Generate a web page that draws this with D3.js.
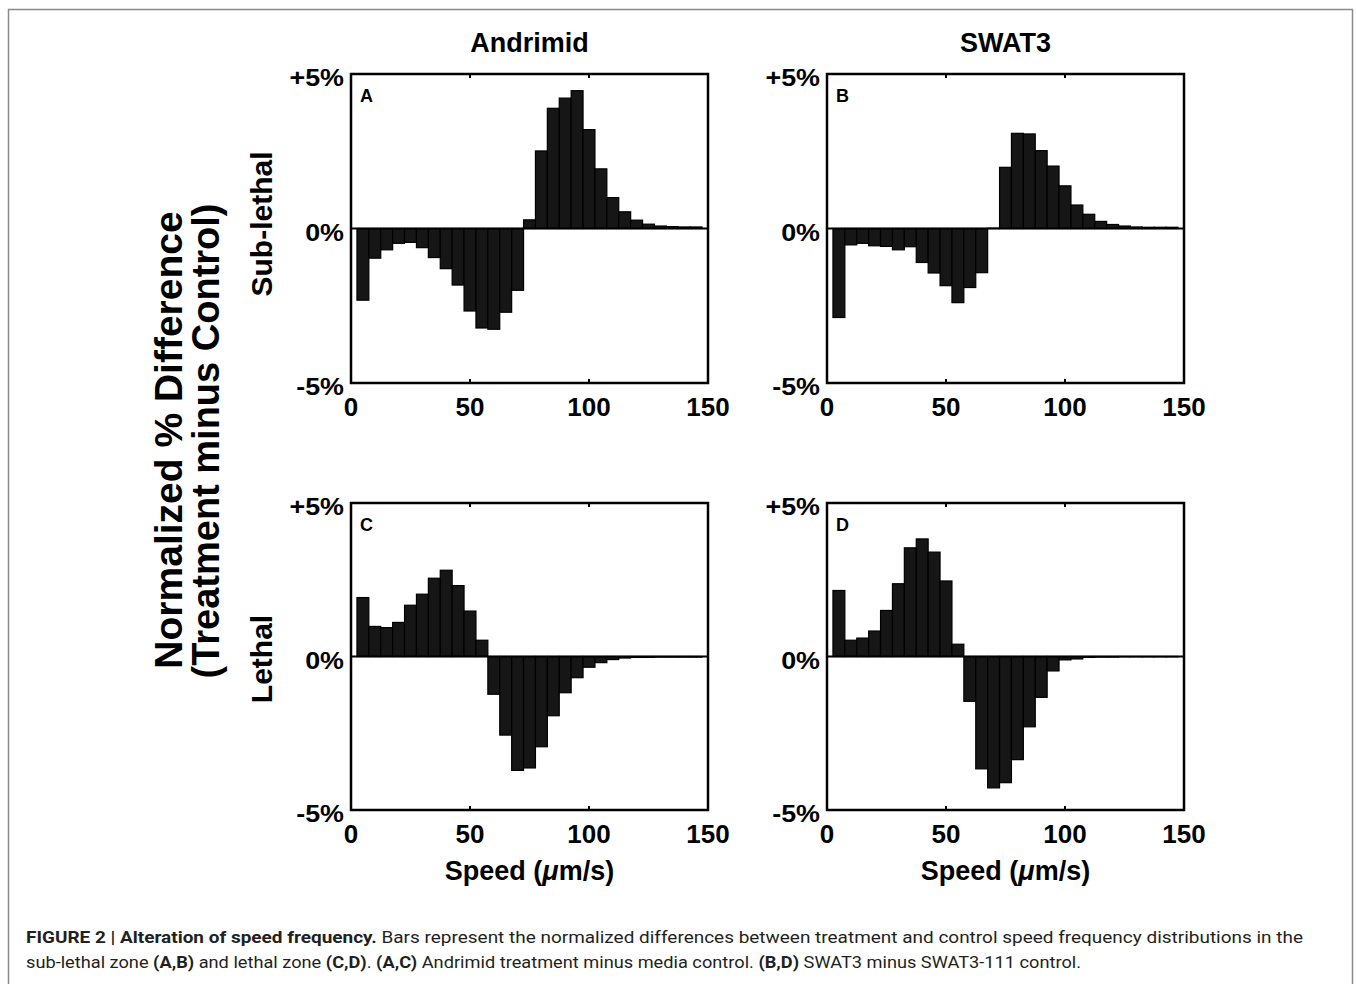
<!DOCTYPE html>
<html>
<head>
<meta charset="utf-8">
<script src="https://cdn.jsdelivr.net/npm/d3@7"></script>
<style>
  html, body { margin: 0; padding: 0; background: #fff; }
  svg { display: block; }
</style>
</head>
<body>
<div id="chart"></div>
<script>
// speed bins (um/s), bar centres
const speedBins = [5, 10, 15, 20, 25, 30, 35, 40, 45, 50, 55, 60, 65, 70, 75,
  80, 85, 90, 95, 100, 105, 110, 115, 120, 125, 130, 135, 140, 145];
// normalized % difference, treatment minus control
const andrimidSub = [-2.32, -0.96, -0.69, -0.48, -0.45, -0.62, -0.94, -1.30, -1.83, -2.67, -3.22, -3.26, -2.71, -2.00, 0.28,
  2.51, 3.89, 4.22, 4.46, 3.20, 1.93, 1.00, 0.54, 0.27, 0.14, 0.08, 0.06, 0.05, 0.05];
const swat3Sub = [-2.88, -0.53, -0.48, -0.56, -0.58, -0.69, -0.59, -1.10, -1.44, -1.85, -2.40, -1.91, -1.43, 0.01, 1.98,
  3.08, 3.06, 2.52, 2.02, 1.38, 0.76, 0.46, 0.23, 0.13, 0.08, 0.05, 0.04, 0.04, 0.04];
const andrimidLethal = [1.92, 0.98, 0.94, 1.11, 1.67, 2.03, 2.55, 2.81, 2.31, 1.48, 0.53, -1.23, -2.56, -3.71, -3.63,
  -2.94, -1.93, -1.18, -0.69, -0.35, -0.20, -0.10, -0.05, -0.03, -0.03, -0.02, -0.02, -0.02, -0.02];
const swat3Lethal = [2.15, 0.53, 0.60, 0.83, 1.50, 2.37, 3.54, 3.83, 3.40, 2.46, 0.40, -1.46, -3.66, -4.28, -4.11,
  -3.36, -2.29, -1.33, -0.47, -0.11, -0.08, -0.03, -0.02, -0.02, -0.01, -0.01, -0.01, -0.01, -0.01];
const panelLetters = ['A', 'B', 'C', 'D'];
const columnTitles = ['Andrimid', 'SWAT3'];
const rowTitles = ['Sub-lethal', 'Lethal'];
const xTicks = [0, 50, 100, 150];
const yTicks = [[5, '+5%'], [0, '0%'], [-5, '-5%']];

const FONT = '"Liberation Sans", Arial, Helvetica, sans-serif';
const W = 1356, H = 984;
const svg = d3.select('#chart').append('svg').attr('width', W).attr('height', H);

// figure frame (open at the bottom)
svg.append('path').attr('d', `M8.5,${H} V9.5 H1352.5 V${H}`)
  .attr('fill', 'none').attr('stroke', '#8a8a8a').attr('stroke-width', 1.5);

const cols = [[351, 708], [827, 1184]];
const rows = [[74, 383], [503, 810]];
const series = [andrimidSub, swat3Sub, andrimidLethal, swat3Lethal];

const x = d3.scaleLinear().domain([0, 150]);
const y = d3.scaleLinear().domain([-5, 5]);

series.forEach((vals, i) => {
  const ci = i % 2, ri = Math.floor(i / 2);
  x.range(cols[ci]);
  y.range([rows[ri][1], rows[ri][0]]);
  const g = svg.append('g');
  // bars
  g.selectAll('rect').data(vals).join('rect')
    .attr('x', (d, j) => x(speedBins[j] - 2.5))
    .attr('width', (d, j) => x(speedBins[j] + 2.5) - x(speedBins[j] - 2.5))
    .attr('y', (d) => y(Math.max(d, 0)))
    .attr('height', (d) => Math.abs(y(d) - y(0)))
    .attr('fill', '#161616').attr('stroke', '#000').attr('stroke-width', 1.2);
  // zero line
  g.append('line').attr('x1', x(0)).attr('x2', x(150)).attr('y1', y(0)).attr('y2', y(0))
    .attr('stroke', '#000').attr('stroke-width', 2.2);
  // inward tick marks
  [50, 100].forEach((t) => {
    g.append('line').attr('x1', x(t)).attr('x2', x(t)).attr('y1', y(-5)).attr('y2', y(-5) - 4)
      .attr('stroke', '#000').attr('stroke-width', 2);
    g.append('line').attr('x1', x(t)).attr('x2', x(t)).attr('y1', y(5)).attr('y2', y(5) + 4)
      .attr('stroke', '#000').attr('stroke-width', 2);
  });
  // box
  g.append('rect').attr('x', x(0)).attr('y', y(5)).attr('width', x(150) - x(0)).attr('height', y(-5) - y(5))
    .attr('fill', 'none').attr('stroke', '#000').attr('stroke-width', 2.5);
  // panel letter
  g.append('text').attr('x', x(0) + 9).attr('y', y(5) + 28)
    .attr('font-family', FONT).attr('font-weight', 700).attr('font-size', 18).text(panelLetters[i]);
  // y tick labels
  g.selectAll('text.yt').data(yTicks).join('text').attr('class', 'yt')
    .attr('text-anchor', 'end')
    .attr('transform', (d) => `translate(${x(0) - 7},${y(d[0]) + 12}) scale(1.12,1)`)
    .attr('font-family', FONT).attr('font-weight', 700).attr('font-size', 24).text((d) => d[1]);
  // x tick labels
  g.selectAll('text.xt').data(xTicks).join('text').attr('class', 'xt')
    .attr('x', (d) => x(d)).attr('y', y(-5) + 33).attr('text-anchor', 'middle')
    .attr('font-family', FONT).attr('font-weight', 700).attr('font-size', 26).text((d) => d);
});

// column titles and x-axis titles
columnTitles.forEach((t, i) => {
  svg.append('text').attr('x', (cols[i][0] + cols[i][1]) / 2).attr('y', 52).attr('text-anchor', 'middle')
    .attr('font-family', FONT).attr('font-weight', 700).attr('font-size', 27).text(t);
  const s = svg.append('text').attr('x', (cols[i][0] + cols[i][1]) / 2).attr('y', 880).attr('text-anchor', 'middle')
    .attr('font-family', FONT).attr('font-weight', 700).attr('font-size', 27);
  s.append('tspan').text('Speed (');
  s.append('tspan').attr('font-style', 'italic').text('\u03bc');
  s.append('tspan').text('m/s)');
});

// row titles
const rowCentres = [224, 659];
rowTitles.forEach((t, i) => {
  svg.append('text').attr('transform', `translate(272,${rowCentres[i]}) rotate(-90)`).attr('text-anchor', 'middle')
    .attr('font-family', FONT).attr('font-weight', 700).attr('font-size', 30).text(t);
});

// y-axis title
svg.append('text').attr('transform', 'translate(182,440) rotate(-90)').attr('text-anchor', 'middle')
  .attr('font-family', FONT).attr('font-weight', 700).attr('font-size', 39).text('Normalized % Difference');
svg.append('text').attr('transform', 'translate(219,441) rotate(-90)').attr('text-anchor', 'middle')
  .attr('font-family', FONT).attr('font-weight', 700).attr('font-size', 38).text('(Treatment minus Control)');

// caption
const CAP = '"Liberation Sans Narrow", "Roboto", sans-serif';
const cap1 = svg.append('text').attr('x', 26).attr('y', 943).attr('font-family', CAP).attr('font-size', 17)
  .attr('fill', '#231f20').attr('textLength', 1277).attr('lengthAdjust', 'spacingAndGlyphs');
cap1.append('tspan').attr('font-weight', 700).text('FIGURE 2 | Alteration of speed frequency.');
cap1.append('tspan').text(' Bars represent the normalized differences between treatment and control speed frequency distributions in the');
const cap2 = svg.append('text').attr('x', 26).attr('y', 968).attr('font-family', CAP).attr('font-size', 17)
  .attr('fill', '#231f20').attr('textLength', 1055).attr('lengthAdjust', 'spacingAndGlyphs');
[['sub-lethal zone ', 0], ['(A,B)', 1], [' and lethal zone ', 0], ['(C,D)', 1], ['. ', 0], ['(A,C)', 1],
  [' Andrimid treatment minus media control. ', 0], ['(B,D)', 1], [' SWAT3 minus SWAT3-111 control.', 0]]
  .forEach((p) => cap2.append('tspan').attr('font-weight', p[1] ? 700 : 400).text(p[0]));
</script>
</body>
</html>
